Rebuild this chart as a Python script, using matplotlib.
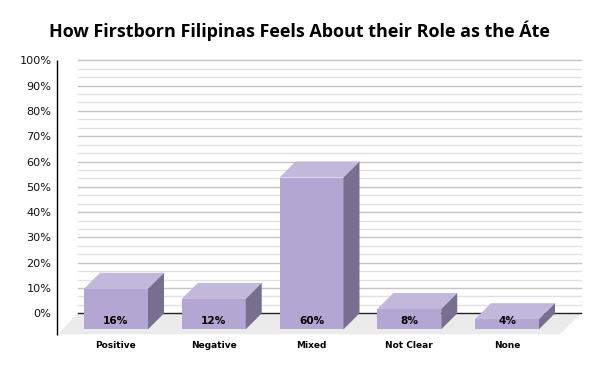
import matplotlib
matplotlib.use("Agg")
import matplotlib.pyplot as plt
from matplotlib.patches import Polygon

title = "How Firstborn Filipinas Feels About their Role as the Áte"
categories = ["Positive", "Negative", "Mixed", "Not Clear", "None"]
values = [16, 12, 60, 8, 4]
yticks = list(range(0, 101, 10))
yticklabels = [f"{v}%" for v in yticks]

FRONT, TOP, SIDE = "#b3a6d3", "#c2b8dc", "#776e90"
FLOOR = "#ebebeb"

W, H = 600, 371
fig = plt.figure(figsize=(W / 100, H / 100), dpi=100)
L, R, T, B = 78, 581, 60.3, 313.3
ax = fig.add_axes([L / W, 1 - B / H, (R - L) / W, (B - T) / H])

px_x = 97.75            # pixels per category
px_y = (B - T) / 100    # pixels per percent
x0 = 116
ax.set_xlim((L - x0) / px_x, (R - x0) / px_x)
ax.set_ylim(0, 100)
dx = 16 / px_x
dy = 16 / px_y
bw = 64 / px_x

def X(p):
    return (p - x0) / px_x

def Y(p):
    return (B - p) / px_y

for s in ax.spines.values():
    s.set_visible(False)

# gridlines: major every 10, two minor in between
for i in range(1, 31):
    v = i * 10 / 3
    major = i % 3 == 0
    ax.axhline(v, color="#c6c6c6" if major else "#e2e2e2", lw=1, zorder=1, clip_on=False)

# floor
ax.add_patch(Polygon([(X(58), Y(334.3)), (X(L), 0), (X(R), 0), (X(560), Y(334.3))],
                     closed=True, fc=FLOOR, ec="none", clip_on=False, zorder=1.5))
ax.axhline(0, color="#222222", lw=1, zorder=2, clip_on=False)
ax.plot([X(57.5), X(57.5)], [Y(60), Y(334.5)], color="black", lw=1, clip_on=False, zorder=2, solid_capstyle="butt")

xs = list(range(len(categories)))
ax.bar(xs, values, width=bw, bottom=-dy, color=FRONT, zorder=3, clip_on=False, linewidth=0)
for x, v in zip(xs, values):
    l, r = x - bw / 2, x + bw / 2
    top = v - dy
    ax.add_patch(Polygon([(l, top), (r, top), (r + dx, v), (l + dx, v)],
                         closed=True, fc=TOP, ec="none", clip_on=False, zorder=3))
    ax.add_patch(Polygon([(r, -dy), (r + dx, 0), (r + dx, v), (r, top)],
                         closed=True, fc=SIDE, ec="none", clip_on=False, zorder=3))
    ax.text(x, Y(320.6), f"{v}%", ha="center", va="center", fontsize=7.6,
            fontweight="bold", color="black", zorder=4, clip_on=False)
    ax.text(x, Y(345.6), categories[x], ha="center", va="center", fontsize=6.5,
            fontweight="bold", color="black", clip_on=False)

ax.set_xticks([])
ax.set_yticks(yticks)
ax.set_yticklabels(yticklabels, fontsize=8.1, color="#111111")
ax.tick_params(axis="y", length=0, pad=(L - 51.5) * 0.72)

fig.text(299.5 / W, 1 - 30.5 / H, title, ha="center", va="center",
         fontsize=12.95, fontweight="bold", family="Open Sans", color="black")

fig.savefig("out.png", dpi=100)
